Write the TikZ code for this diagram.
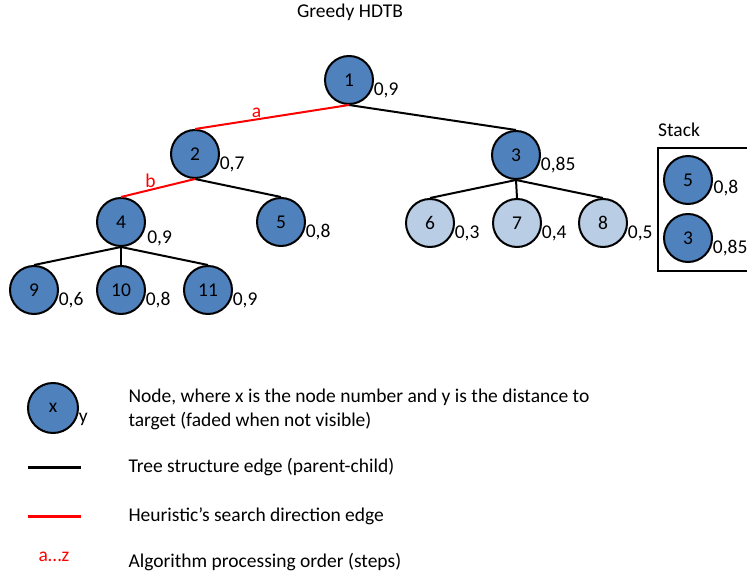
\documentclass[tikz,border=0pt]{standalone}
\usepackage{fontspec}
\setmainfont{Carlito}
\usetikzlibrary{positioning}
\definecolor{nodeblue}{HTML}{4F81BD}
\definecolor{fadedblue}{HTML}{B9CDE5}

\begin{document}
\begin{tikzpicture}[x=1pt, y=-1pt,
    font=\fontsize{19.5}{23}\selectfont,
    tnode/.style={circle, draw, line width=2pt, fill=nodeblue, minimum size=48pt, inner sep=0pt},
    fnode/.style={tnode, fill=fadedblue},
    dist/.style={anchor=west, inner sep=2pt},
    treeedge/.style={line width=2pt},
    searchedge/.style={line width=2pt, red},
    steplabel/.style={red, above, inner sep=1pt, pos=0.6}]

\useasboundingbox (0,0) rectangle (747,577);

\node (title) at (350,12) {Greedy HDTB};

% Tree nodes
\node[tnode, label={[dist]-25:0,9}] (n1) at (349,80) {1};
\node[tnode, label={[dist]-25:0,7}] (n2) at (195,154) {2};
\node[tnode, label={[dist]-25:0,85}] (n3) at (516,155) {3};
\node[tnode, label={[dist, xshift=5pt]-40:0,9}] (n4) at (121,222) {4};
\node[tnode, label={[dist]-25:0,8}] (n5) at (281,222) {5};
\node[fnode, label={[dist]-25:0,3}] (n6) at (430,223) {6};
\node[fnode, label={[dist]-25:0,4}] (n7) at (517,223) {7};
\node[fnode, label={[dist]-25:0,5}] (n8) at (603,223) {8};
\node[tnode, label={[dist]-25:0,6}] (n9) at (34,290) {9};
\node[tnode, label={[dist]-25:0,8}] (n10) at (121,290) {10};
\node[tnode, label={[dist]-25:0,9}] (n11) at (208,290) {11};

% Edges
\draw[searchedge] (n1.south) -- node[steplabel] {a} (n2.north);
\draw[treeedge] (n1.south) -- (n3.north);
\draw[searchedge] (n2.south) -- node[steplabel] {b} (n4.north);
\draw[treeedge] (n2.south) -- (n5.north);
\draw[treeedge] (n3.south) -- (n6.north);
\draw[treeedge] (n3.south) -- (n7.north);
\draw[treeedge] (n3.south) -- (n8.north);
\draw[treeedge] (n4.south) -- (n9.north);
\draw[treeedge] (n4.south) -- (n10.north);
\draw[treeedge] (n4.south) -- (n11.north);

% Stack
\draw[line width=1.5pt] (658,148) rectangle (770,271);
\node[anchor=south west, inner sep=1pt] (stacklbl) at (657,138) {Stack};
\node[tnode, label={[dist]-20:0,8}] (s5) at (688,180) {5};
\node[tnode, label={[dist]-25:0,85}] (s3) at (688,238) {3};

% Legend
\node[tnode, minimum size=50pt, label={[dist, inner sep=0pt, xshift=2pt]-25:y}] (legnode) at (53,408) {\raisebox{-3pt}{x}};
\node[anchor=west, align=left, font=\fontsize{19.5}{24}\selectfont] (legtext1) at (125,409)
    {Node, where x is the node number and y is the distance to\\target (faded when not visible)};

\coordinate (tla) at (28,467);
\coordinate (tlb) at (81,467);
\draw[treeedge, line width=3pt] (tla) -- (tlb);
\node[anchor=west] (legtext2) at (125,467) {Tree structure edge (parent-child)};

\coordinate (sla) at (28,516);
\coordinate (slb) at (81,516);
\draw[searchedge, line width=3pt] (sla) -- (slb);
\node[anchor=west] (legtext3) at (125,516) {Heuristic’s search direction edge};

\node[red] (legsteps) at (54,557) {a…z};
\node[anchor=west] (legtext4) at (125,562) {Algorithm processing order (steps)};
\end{tikzpicture}
\end{document}
